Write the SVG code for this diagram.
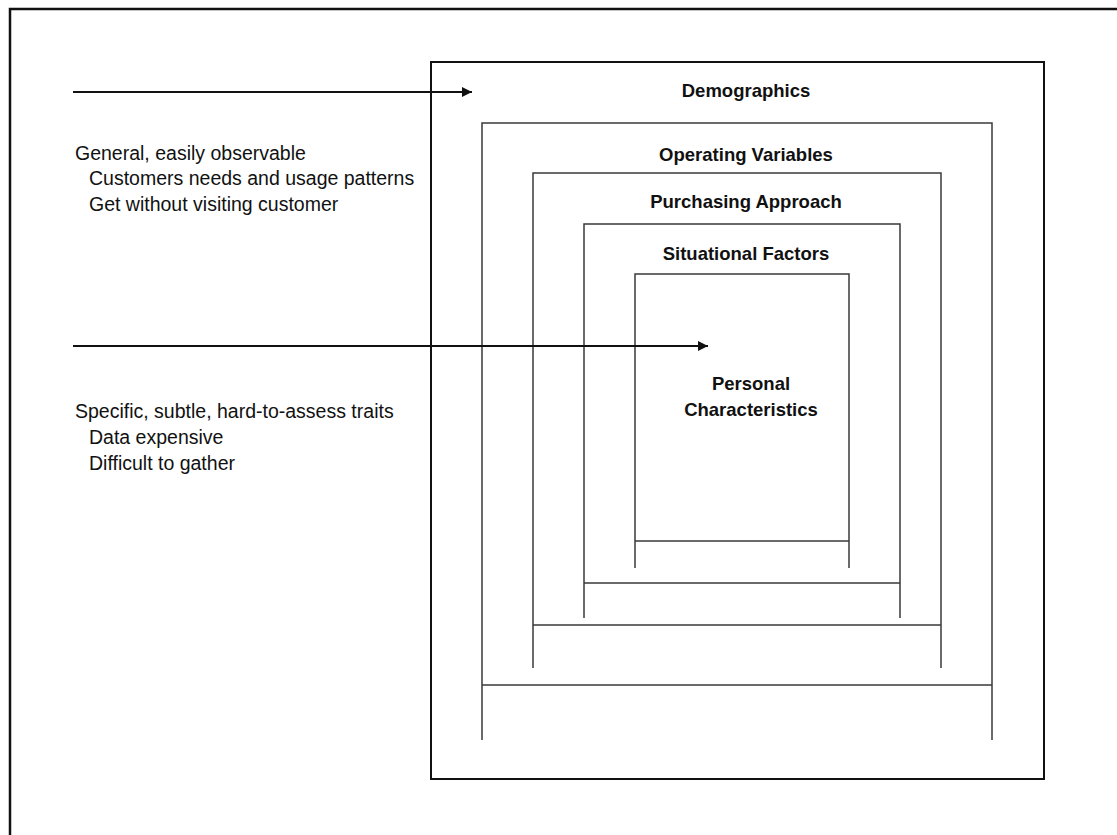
<svg xmlns="http://www.w3.org/2000/svg" width="1117" height="835" viewBox="0 0 1117 835">
<style>
.frame{fill:none;stroke:#111;stroke-width:2.5}
.main{fill:none;stroke:#111;stroke-width:2}
.box{fill:none;stroke:#3a3a3a;stroke-width:1.5}
.arrow{stroke:#111;stroke-width:2;fill:none}
.head{font-family:"Liberation Sans",Arial,sans-serif;font-weight:bold;font-size:18.5px;fill:#111;text-anchor:middle}
.note{font-family:"Liberation Sans",Arial,sans-serif;font-size:19.5px;fill:#111}
</style>
<defs>
<marker id="ah" viewBox="0 0 10 10" refX="10" refY="5" markerWidth="5.5" markerHeight="5" orient="auto" markerUnits="strokeWidth">
<path d="M0,0 L10,5 L0,10 z" fill="#111"/>
</marker>
</defs>
<rect width="1117" height="835" fill="#fff"/>
<rect class="frame" x="10" y="9" width="1130" height="850"/>
<g id="demographics">
<rect class="main" x="431" y="62" width="613" height="717"/>
<text class="head" x="746" y="97">Demographics</text>
</g>
<g id="operating-variables">
<path class="box" d="M482,740 V123 H992 V740 M482,685 H992"/>
<text class="head" x="746" y="161">Operating Variables</text>
</g>
<g id="purchasing-approach">
<path class="box" d="M533,668 V173 H941 V668 M533,625 H941"/>
<text class="head" x="746" y="208">Purchasing Approach</text>
</g>
<g id="situational-factors">
<path class="box" d="M584,618 V224 H900 V618 M584,583 H900"/>
<text class="head" x="746" y="260">Situational Factors</text>
</g>
<g id="personal-characteristics">
<path class="box" d="M635,568 V274 H849 V568 M635,541 H849"/>
<text class="head" x="751" y="390">Personal</text>
<text class="head" x="751" y="416">Characteristics</text>
</g>
<g id="connectors">
<line class="arrow" x1="73" y1="92" x2="472" y2="92" marker-end="url(#ah)"/>
<line class="arrow" x1="73" y1="346" x2="708" y2="346" marker-end="url(#ah)"/>
</g>
<g id="general-notes">
<text class="note" x="75" y="160">General, easily observable</text>
<text class="note" x="89" y="185">Customers needs and usage patterns</text>
<text class="note" x="89" y="211">Get without visiting customer</text>
</g>
<g id="specific-notes">
<text class="note" x="75" y="418">Specific, subtle, hard-to-assess traits</text>
<text class="note" x="89" y="444">Data expensive</text>
<text class="note" x="89" y="470">Difficult to gather</text>
</g>
</svg>
